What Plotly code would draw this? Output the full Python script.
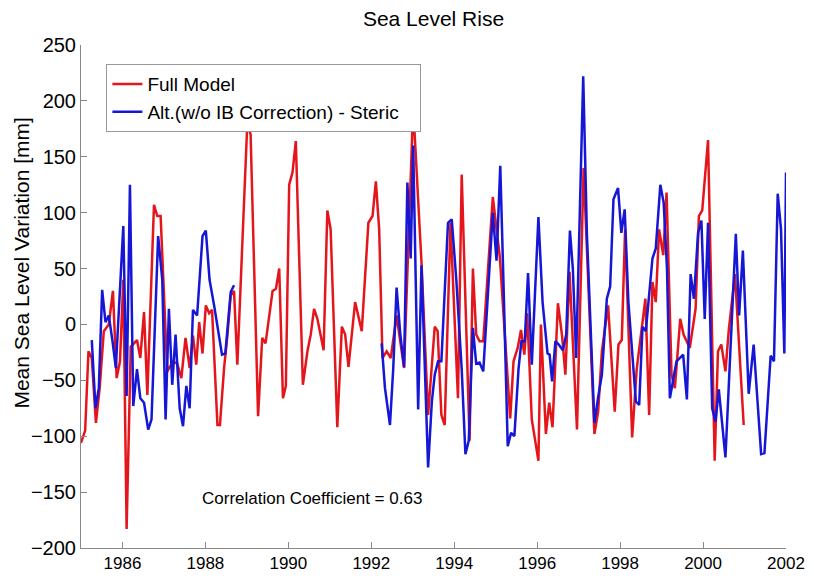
import plotly.graph_objects as go

# Full Model (red) - decimal year / mm
model_year = [
    1985.00, 1985.10, 1985.18, 1985.26, 1985.36, 1985.45, 1985.55, 1985.67, 1985.77, 1985.86,
    1985.94, 1986.02, 1986.10, 1986.20, 1986.35, 1986.43, 1986.52, 1986.60, 1986.76, 1986.84,
    1986.92, 1987.08, 1987.22, 1987.32, 1987.42, 1987.52, 1987.62, 1987.70, 1987.78, 1987.85,
    1987.93, 1988.01, 1988.09, 1988.16, 1988.29, 1988.35, 1988.45, 1988.53, 1988.61, 1988.69,
    1988.77, 1989.01, 1989.09, 1989.27, 1989.37, 1989.45, 1989.62, 1989.70, 1989.78, 1989.87,
    1989.94, 1990.02, 1990.10, 1990.18, 1990.35, 1990.46, 1990.54, 1990.62, 1990.70, 1990.85,
    1990.94, 1991.02, 1991.18, 1991.29, 1991.37, 1991.45, 1991.61, 1991.77, 1991.93, 1992.03,
    1992.11, 1992.19, 1992.27, 1992.37, 1992.47, 1992.61, 1992.79, 1992.89, 1993.01, 1993.21,
    1993.37, 1993.53, 1993.60, 1993.69, 1993.77, 1993.91, 1994.09, 1994.18, 1994.37, 1994.45,
    1994.53, 1994.61, 1994.70, 1994.93, 1995.01, 1995.10, 1995.35, 1995.43, 1995.53, 1995.61,
    1995.69, 1995.76, 1995.87, 1996.03, 1996.09, 1996.21, 1996.29, 1996.37, 1996.50, 1996.60,
    1996.68, 1996.78, 1996.96, 1997.12, 1997.38, 1997.47, 1997.56, 1997.71, 1997.87, 1997.96,
    1998.04, 1998.12, 1998.29, 1998.40, 1998.61, 1998.70, 1998.78, 1998.86, 1998.94, 1999.04,
    1999.12, 1999.24, 1999.32, 1999.45, 1999.53, 1999.68, 1999.82, 1999.90, 1999.98, 2000.12,
    2000.28, 2000.36, 2000.44, 2000.54, 2000.62, 2000.77, 2000.98,
]
model_mm = [
    -106, -95, -24, -30, -88, -57, -6, 0, 30, -48,
    -33, 40, -183, -20, -14, -30, 11, -63, 107, 97,
    97, -42, -33, -35, -48, -12, -39, -10, -36, 2,
    -26, 17, 10, 13, -90, -90, -39, -10, 26, 30,
    -36, 180, 170, -82, -12, -17, 30, 32, 50, -66,
    -55, 125, 136, 164, -54, -24, -9, 14, 5, -23,
    102, 85, -92, -2, -9, -38, 20, -6, 91, 97,
    128, 85, -30, -24, -30, 8, -39, 74, 195, 56,
    -81, -2, -6, -81, -90, 91, -66, 134, -104, 50,
    -9, -15, -15, 114, 91, 60, -84, -33, -21, -5,
    -27, 10, -85, -122, 0, -98, -70, -92, 19, -10,
    -45, 47, -94, 140, -98, -78, -24, 17, -78, -18,
    -14, 85, -101, -40, 23, -81, 38, 20, 85, 62,
    118, -45, -57, 5, -9, -21, 14, 97, 102, 165,
    -122, -24, -18, -42, -5, 45, -90,
]

# Altimetry (w/o IB correction) - steric (blue); None marks the data gap
alt_year = [
    1985.26, 1985.35, 1985.43, 1985.51, 1985.59, 1985.67, 1985.76, 1985.84, 1986.02, 1986.10,
    1986.18, 1986.26, 1986.35, 1986.43, 1986.52, 1986.62, 1986.70, 1986.86, 1986.96, 1987.04,
    1987.12, 1987.20, 1987.28, 1987.38, 1987.46, 1987.54, 1987.62, 1987.70, 1987.80, 1987.93,
    1988.01, 1988.10, 1988.21, 1988.40, 1988.48, 1988.61, 1988.69, None,
    1992.25, 1992.33, 1992.45, 1992.53, 1992.61, 1992.70, 1992.79, 1992.87, 1992.95, 1993.01,
    1993.13, 1993.21, 1993.37, 1993.46, 1993.53, 1993.61, 1993.69, 1993.85, 1993.94, 1994.05,
    1994.18, 1994.27, 1994.35, 1994.45, 1994.53, 1994.61, 1994.70, 1994.80, 1994.93, 1995.02,
    1995.11, 1995.20, 1995.29, 1995.37, 1995.45, 1995.55, 1995.62, 1995.70, 1995.78, 1995.87,
    1996.03, 1996.13, 1996.25, 1996.30, 1996.36, 1996.44, 1996.52, 1996.62, 1996.70, 1996.79,
    1996.86, 1996.94, 1997.11, 1997.20, 1997.38, 1997.47, 1997.56, 1997.68, 1997.76, 1997.84,
    1997.95, 1998.03, 1998.11, 1998.20, 1998.27, 1998.38, 1998.46, 1998.54, 1998.62, 1998.73,
    1998.78, 1998.86, 1998.97, 1999.05, 1999.13, 1999.20, 1999.36, 1999.52, 1999.61, 1999.70,
    1999.78, 1999.88, 1999.96, 2000.04, 2000.12, 2000.22, 2000.30, 2000.38, 2000.54, 2000.79,
    2000.87, 2000.96, 2001.10, 2001.22, 2001.30, 2001.40, 2001.48, 2001.63, 2001.71, 2001.80,
    2001.88, 2001.96, 2002.00,
]
alt_mm = [
    -14, -75, -57, 31, 2, 8, -15, -39, 88, -64,
    125, -73, -40, -66, -70, -94, -85, 79, 40, -85,
    14, -54, -9, -75, -91, -55, -75, 13, 8, 79,
    84, 40, 17, -27, -26, 29, 35, None,
    -17, -57, -90, -39, 33, -9, -38, 127, 59, 160,
    -76, 53, -128, -69, -45, -33, -33, 91, 94, 40,
    -40, -116, -104, -3, -35, -34, -42, 20, 100, 57,
    142, 20, -109, -97, -100, -40, -15, -15, 46, -36,
    96, 20, -26, -27, -51, -15, -18, -23, -9, 84,
    50, -30, 222, 80, -88, -65, -45, 23, 34, 112,
    122, 82, 103, 20, -12, -69, -72, -2, -6, 38,
    59, 68, 125, 109, 50, -66, -33, -27, -67, 45,
    23, 82, 93, 5, 91, -75, -87, -58, -119, 81,
    8, 66, -62, -18, -60, -116, -115, -28, -33, 117,
    85, -26, 136,
]

x_ticks = [1986, 1988, 1990, 1992, 1994, 1996, 1998, 2000, 2002]
y_ticks = [-200, -150, -100, -50, 0, 50, 100, 150, 200, 250]

fig = go.Figure()
fig.add_trace(go.Scatter(x=model_year, y=model_mm, mode="lines", name="Full Model",
                         line=dict(color="rgb(228,22,28)", width=2.5)))
fig.add_trace(go.Scatter(x=alt_year, y=alt_mm, mode="lines",
                         name="Alt.(w/o IB Correction) - Steric&nbsp;&nbsp;&nbsp;",
                         line=dict(color="rgb(22,22,215)", width=2.5), connectgaps=False))

fig.add_annotation(x=1987.87, y=-156, xref="x", yref="y", xanchor="left", yanchor="middle",
                   text="Correlation Coefficient = 0.63", showarrow=False,
                   font=dict(size=17, color="black"))

# y-axis title placed as a rotated annotation (sits a bit above the axis centre)
fig.add_annotation(x=-0.084, y=0.567, xref="paper", yref="paper", xanchor="center", yanchor="middle",
                   text="Mean Sea Level Variation [mm]", textangle=-90, showarrow=False,
                   font=dict(size=21, color="black"))

# the page body keeps its default 8px margin, so the figure is sized to fit inside the window
fig.update_layout(
    width=798, height=565,
    paper_bgcolor="white", plot_bgcolor="white",
    font=dict(family="Arial, Liberation Sans, sans-serif", color="black"),
    title=dict(text="Sea Level Rise", x=0.5, xref="paper", y=0.982, yanchor="middle",
               font=dict(size=21)),
    margin=dict(l=73, r=20, t=37, b=25, autoexpand=False),
    showlegend=True,
    legend=dict(x=0.036, y=0.962, xanchor="left", yanchor="top",
                bgcolor="white", bordercolor="#999999", borderwidth=1,
                font=dict(size=19), tracegroupgap=0),
)

fig.update_xaxes(range=[1985, 2002], tickvals=x_ticks, ticks="inside", ticklen=6,
                 tickcolor="#888888", showline=True, linecolor="#888888", linewidth=1,
                 showgrid=False, zeroline=False, tickfont=dict(size=17),
                 ticklabeloverflow="allow", automargin=False)
fig.update_yaxes(range=[-200, 250], tickvals=y_ticks, ticks="inside", ticklen=6,
                 tickcolor="#888888", showline=True, linecolor="#888888", linewidth=1,
                 showgrid=False, zeroline=False, tickfont=dict(size=20), automargin=False)

fig.write_html("out.html")
